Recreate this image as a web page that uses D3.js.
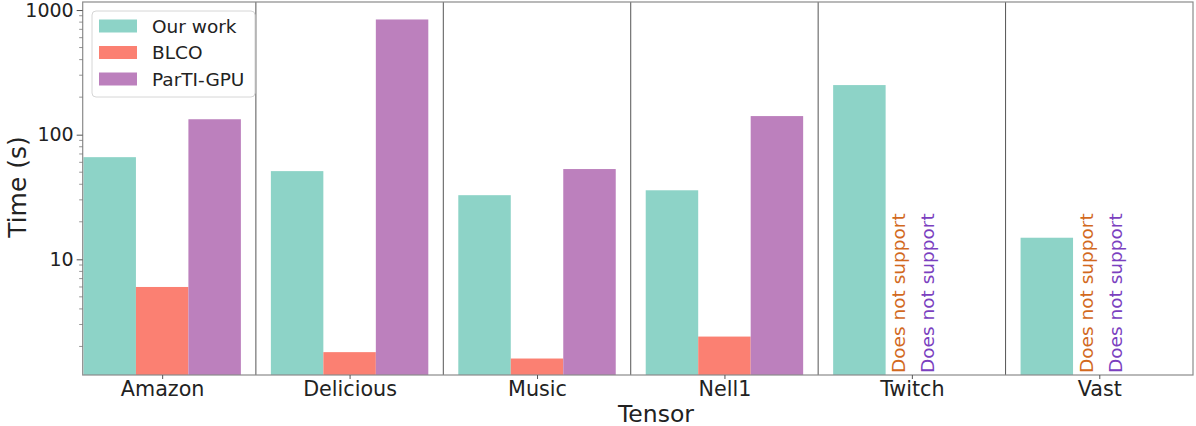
<!DOCTYPE html>
<html><head><meta charset="utf-8">
<script src="https://cdn.jsdelivr.net/npm/d3@7"></script>
<style>body{margin:0;background:#fff}svg{display:block;font-family:"DejaVu Sans",sans-serif}</style>
</head><body><svg id="c" width="1196" height="426"></svg>
<script>
const categories = ["Amazon","Delicious","Music","Nell1","Twitch","Vast"];
const seriesNames = ["Our work","BLCO","ParTI-GPU"];
const ourWork = [66, 51, 32.7, 35.8, 250, 14.9];
const blco = [6.0, 1.8, 1.6, 2.4, null, null];
const partiGpu = [133, 840, 53, 141, null, null];
const yTicks = [10, 100, 1000];
const colors = ["#8dd3c7","#fb8072","#bc80bd"];
const noteColors = ["#d2691e","#7b3fbf"];
const noteText = "Does not support";

const svg = d3.select("#c");
const L = 82.7, R = 1193, T = 2, B = 375;
const x = d3.scaleLinear().domain([-0.424, 5.5]).range([L, R]);
const y = d3.scaleLog().domain([1.18, 1160]).range([B, T]);
const bw = 0.28;
const series = [ourWork, blco, partiGpu];

// bars
series.forEach((vals, s) => {
  svg.append("g").selectAll("rect").data(vals.map((v,i)=>({v,i})).filter(d=>d.v!=null))
    .enter().append("rect")
    .attr("x", d => x(d.i + (s-1)*bw - bw/2))
    .attr("width", d => x(bw) - x(0))
    .attr("y", d => y(d.v))
    .attr("height", d => B - y(d.v))
    .attr("fill", colors[s]);
});

// separators
svg.append("g").selectAll("line").data(d3.range(categories.length-1)).enter().append("line")
  .attr("x1", d=>x(d+0.5)).attr("x2", d=>x(d+0.5)).attr("y1", T).attr("y2", B)
  .attr("stroke", "#555").attr("stroke-width", 1);

// "Does not support" notes
const noteOffsets = [-0.036, 0.119];
series.slice(1).forEach((vals, k) => {
  vals.forEach((v, i) => {
    if (v == null) {
      const px = x(i + noteOffsets[k]);
      svg.append("text").attr("transform", `translate(${px},${B - 2}) rotate(-90)`)
        .attr("fill", noteColors[k]).attr("font-size", 18.5).text(noteText);
    }
  });
});

// frame
svg.append("rect").attr("x", L).attr("y", T).attr("width", R-L).attr("height", B-T)
  .attr("fill","none").attr("stroke","#8a8a8a").attr("stroke-width",1.2);

// y axis
const yAxis = d3.axisLeft(y).tickValues(yTicks).tickFormat(d3.format("d")).tickSize(6).tickPadding(3);
const gy = svg.append("g").attr("transform", `translate(${L},0)`).call(yAxis);
gy.select(".domain").remove();
gy.selectAll("line").attr("stroke","#555");
gy.selectAll("text").attr("font-size", 19).attr("fill","#222").attr("font-family","DejaVu Sans");
// minor ticks
const minor = [];
[1,10,100,1000].forEach(dec => { for (let m=2;m<=9;m++){ const v=dec*m; if (v>1.18 && v<1160) minor.push(v);} });
svg.append("g").selectAll("line").data(minor).enter().append("line")
  .attr("x1", L-3.5).attr("x2", L).attr("y1", d=>y(d)).attr("y2", d=>y(d)).attr("stroke","#777").attr("stroke-width",0.8);

// x axis
const xAxis = d3.axisBottom(x).tickValues(d3.range(categories.length)).tickFormat(i=>categories[i]).tickSize(4).tickPadding(2);
const gx = svg.append("g").attr("transform", `translate(0,${B})`).call(xAxis);
gx.select(".domain").remove();
gx.selectAll("line").attr("stroke","#555");
gx.selectAll("text").attr("font-size", 20.7).attr("fill","#222").attr("font-family","DejaVu Sans");

// axis labels
svg.append("text").attr("x", 656).attr("y", 422).attr("text-anchor","middle")
  .attr("font-size", 23.5).attr("fill","#222").text("Tensor");
svg.append("text").attr("transform", `translate(26,187) rotate(-90)`).attr("text-anchor","middle")
  .attr("font-size", 25).attr("fill","#222").text("Time (s)");

// legend
const lg = svg.append("g");
lg.append("rect").attr("x", 92).attr("y", 11).attr("width", 163).attr("height", 86).attr("rx", 4)
  .attr("fill","#fff").attr("fill-opacity",0.8).attr("stroke","#d6d6d6");
seriesNames.forEach((n, s) => {
  const cy = 26 + s*26.5;
  lg.append("rect").attr("x", 99).attr("y", cy-6.5).attr("width", 38).attr("height", 13).attr("fill", colors[s]);
  lg.append("text").attr("x", 152).attr("y", cy+6.5).attr("font-size", 18.5).attr("fill","#222").text(n);
});
</script></body></html>
